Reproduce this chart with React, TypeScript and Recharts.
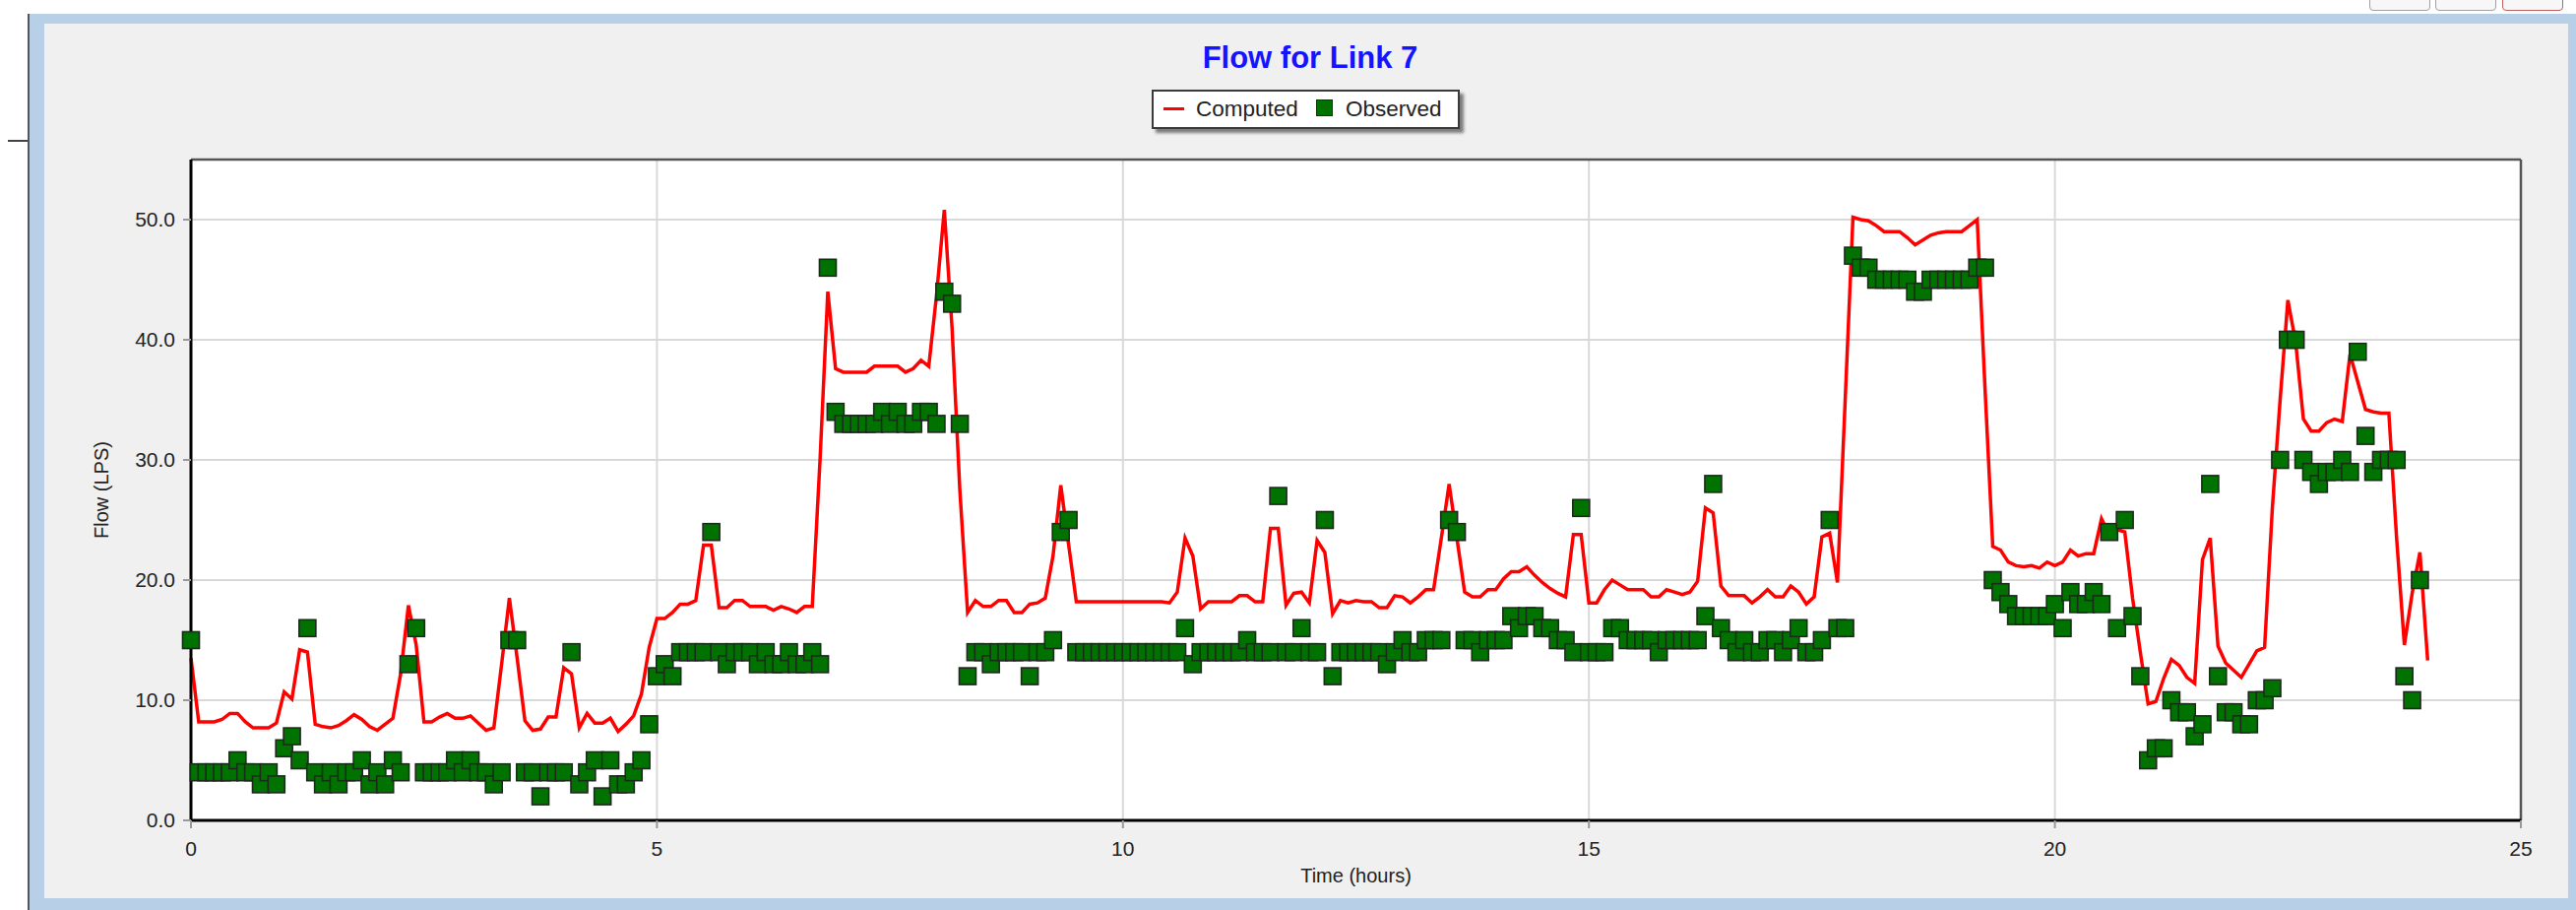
import React from 'react';
import {
  ComposedChart,
  Line,
  Scatter,
  XAxis,
  YAxis,
  CartesianGrid,
  ReferenceLine,
  Label,
} from 'recharts';

// Flow for link 7, one value every 5 minutes from 0 h to 24 h
const STEP_MINUTES = 5;

const computedFlow = [
  13.5, 8.2, 8.2, 8.2, 8.4, 8.9, 8.9, 8.2, 7.7, 7.7,
  7.7, 8.1, 10.7, 10.1, 14.2, 14.0, 8.0, 7.8, 7.7, 7.9,
  8.3, 8.8, 8.4, 7.8, 7.5, 8.0, 8.5, 12.2, 17.9, 14.6,
  8.2, 8.2, 8.6, 8.9, 8.5, 8.5, 8.7, 8.1, 7.5, 7.7,
  13.0, 18.5, 13.5, 8.3, 7.5, 7.6, 8.6, 8.6, 12.7, 12.2,
  7.7, 8.9, 8.1, 8.1, 8.5, 7.4, 8.0, 8.7, 10.5, 14.4,
  16.8, 16.8, 17.3, 18.0, 18.0, 18.3, 22.9, 22.9, 17.7, 17.7,
  18.3, 18.3, 17.8, 17.8, 17.8, 17.5, 17.8, 17.6, 17.3, 17.8,
  17.8, 30.0, 44.0, 37.6, 37.3, 37.3, 37.3, 37.3, 37.8, 37.8,
  37.8, 37.8, 37.3, 37.6, 38.3, 37.8, 43.7, 50.8, 41.0, 27.5,
  17.3, 18.3, 17.8, 17.8, 18.3, 18.3, 17.3, 17.3, 18.0, 18.1,
  18.5, 22.0, 27.9, 23.0, 18.2, 18.2, 18.2, 18.2, 18.2, 18.2,
  18.2, 18.2, 18.2, 18.2, 18.2, 18.2, 18.1, 19.0, 23.5, 22.0,
  17.6, 18.2, 18.2, 18.2, 18.2, 18.7, 18.7, 18.2, 18.2, 24.3,
  24.3, 17.9, 18.9, 19.0, 18.1, 23.3, 22.3, 17.2, 18.3, 18.1,
  18.3, 18.2, 18.2, 17.7, 17.7, 18.7, 18.6, 18.1, 18.6, 19.2,
  19.2, 23.5, 28.0, 23.5, 19.0, 18.6, 18.6, 19.2, 19.2, 20.1,
  20.7, 20.7, 21.1, 20.4, 19.8, 19.3, 18.9, 18.6, 23.8, 23.8,
  18.1, 18.1, 19.2, 20.0, 19.6, 19.2, 19.2, 19.2, 18.6, 18.6,
  19.2, 19.0, 18.8, 19.0, 19.9, 26.0, 25.6, 19.5, 18.7, 18.7,
  18.7, 18.1, 18.6, 19.2, 18.6, 18.6, 19.5, 19.0, 18.0, 18.6,
  23.6, 23.9, 19.8, 35.0, 50.2, 50.0, 49.9, 49.5, 49.0, 49.0,
  49.0, 48.5, 47.9, 48.3, 48.7, 48.9, 49.0, 49.0, 49.0, 49.5,
  50.0, 36.0, 22.8, 22.5, 21.5, 21.2, 21.1, 21.2, 21.0, 21.5,
  21.2, 21.5, 22.5, 22.0, 22.2, 22.2, 25.1, 23.8, 24.2, 24.0,
  18.5, 14.0, 9.7, 9.9, 11.8, 13.4, 12.9, 11.9, 11.4, 21.7,
  23.5, 14.5, 13.1, 12.5, 11.9, 13.0, 14.1, 14.4, 26.0, 35.0,
  43.3, 39.8, 33.4, 32.4, 32.4, 33.1, 33.4, 33.2, 38.8, 36.5,
  34.2, 34.0, 33.9, 33.9, 23.5, 14.6, 18.9, 22.3, 13.3,
];

const observedFlow = [
  15, 4, 4, 4, 4, 4, 5, 4, 4, 3,
  4, 3, 6, 7, 5, 16, 4, 3, 4, 3,
  4, 4, 5, 3, 4, 3, 5, 4, 13, 16,
  4, 4, 4, 4, 5, 4, 5, 4, 4, 3,
  4, 15, 15, 4, 4, 2, 4, 4, 4, 14,
  3, 4, 5, 2, 5, 3, 3, 4, 5, 8,
  12, 13, 12, 14, 14, 14, 14, 24, 14, 13,
  14, 14, 14, 13, 14, 13, 13, 14, 13, 13,
  14, 13, 46, 34, 33, 33, 33, 33, 33, 34,
  33, 34, 33, 33, 34, 34, 33, 44, 43, 33,
  12, 14, 14, 13, 14, 14, 14, 14, 12, 14,
  14, 15, 24, 25, 14, 14, 14, 14, 14, 14,
  14, 14, 14, 14, 14, 14, 14, 14, 16, 13,
  14, 14, 14, 14, 14, 14, 15, 14, 14, 14,
  27, 14, 14, 16, 14, 14, 25, 12, 14, 14,
  14, 14, 14, 14, 13, 14, 15, 14, 14, 15,
  15, 15, 25, 24, 15, 15, 14, 15, 15, 15,
  17, 16, 17, 17, 16, 16, 15, 15, 14, 26,
  14, 14, 14, 16, 16, 15, 15, 15, 15, 14,
  15, 15, 15, 15, 15, 17, 28, 16, 15, 14,
  15, 14, 14, 15, 15, 14, 15, 16, 14, 14,
  15, 25, 16, 16, 47, 46, 46, 45, 45, 45,
  45, 45, 44, 44, 45, 45, 45, 45, 45, 45,
  46, 46, 20, 19, 18, 17, 17, 17, 17, 17,
  18, 16, 19, 18, 18, 19, 18, 24, 16, 25,
  17, 12, 5, 6, 6, 10, 9, 9, 7, 8,
  28, 12, 9, 9, 8, 8, 10, 10, 11, 30,
  40, 40, 30, 29, 28, 29, 29, 30, 29, 39,
  32, 29, 30, 30, 30, 12, 10, 20,
];

const timeTicks = [0, 5, 10, 15, 20, 25];
const flowTicks = [0, 10, 20, 30, 40, 50];

const computedData = computedFlow.map((v, i) => ({ t: (i * STEP_MINUTES) / 60, computed: v }));
const observedData = observedFlow.map((v, i) => ({ t: (i * STEP_MINUTES) / 60, observed: v }));

const FONT = '"Liberation Sans", Arial, sans-serif';

const ObservedSquare = (props: any) => {
  const { cx, cy } = props;
  if (cx == null || cy == null) return null;
  return (
    <rect x={cx - 8.5} y={cy - 8.5} width={17} height={17} fill="#007200" stroke="#1c2a1c" strokeWidth={1.6} />
  );
};

const FlowAxisLabel = (props: any) => {
  const vb = props.viewBox || {};
  const x = (vb.x || 0) + 23;
  const y = (vb.y || 0) + (vb.height || 0) / 2;
  return (
    <text x={x} y={y} transform={`rotate(-90, ${x}, ${y})`} textAnchor="middle" dominantBaseline="central"
      fontSize={20} fontFamily={FONT} fill="#222">
      Flow (LPS)
    </text>
  );
};

const WindowButton = ({ left, color }: { left: number; color: string }) => (
  <div style={{
    position: 'absolute', left, top: -6, width: 62, height: 17, borderRadius: 4,
    border: `1.5px solid ${color}`, background: '#f7f7f7', boxSizing: 'border-box',
  }} />
);

export default function App() {
  return (
    <div style={{ position: 'absolute', left: 0, top: 0, width: 2617, height: 924, overflow: 'hidden', background: '#fff' }}>
      {/* window frame */}
      <div style={{ position: 'absolute', left: 8, top: 142, width: 21, height: 2, background: '#444' }} />
      <div style={{ position: 'absolute', left: 28, top: 14, width: 2, height: 910, background: '#555' }} />
      <div style={{ position: 'absolute', left: 30, top: 14, width: 2587, height: 910, background: '#b8cfe8' }} />
      <div style={{ position: 'absolute', left: 45, top: 24, width: 2564, height: 888, background: '#f0f0f0' }} />
      <WindowButton left={2407} color="#a0a0a0" />
      <WindowButton left={2474} color="#a0a0a0" />
      <WindowButton left={2542} color="#c0605a" />

      <div style={{ position: 'absolute', left: 0, top: 0 }}>
        <ComposedChart width={2617} height={924} margin={{ top: 162, right: 56, bottom: 21, left: 80 }}>
          <CartesianGrid stroke="#d9d9d9" strokeWidth={2} fill="#ffffff" fillOpacity={1} />
          <XAxis
            dataKey="t"
            type="number"
            domain={[0, 25]}
            ticks={timeTicks}
            height={70}
            allowDuplicatedCategory={false}
            axisLine={{ stroke: '#000', strokeWidth: 3 }}
            tickLine={{ stroke: '#999', strokeWidth: 2 }}
            tickSize={8}
            tickMargin={13}
            tick={{ fill: '#222', fontSize: 21, fontFamily: FONT }}
          >
            <Label value="Time (hours)" position="insideBottom" offset={7}
              style={{ fontSize: 20, fontFamily: FONT, fill: '#222' }} />
          </XAxis>
          <YAxis
            type="number"
            domain={[0, 55]}
            ticks={flowTicks}
            width={114}
            axisLine={{ stroke: '#000', strokeWidth: 3 }}
            tickLine={{ stroke: '#999', strokeWidth: 2 }}
            tickSize={8}
            tickMargin={8}
            tickFormatter={(v: number) => v.toFixed(1)}
            tick={{ fill: '#222', fontSize: 21, fontFamily: FONT }}
          >
            <Label content={<FlowAxisLabel />} />
          </YAxis>
          <ReferenceLine y={55} stroke="#555" strokeWidth={2.5} />
          <ReferenceLine x={25} stroke="#555" strokeWidth={2.5} />
          <Line
            data={computedData}
            dataKey="computed"
            type="linear"
            stroke="#ff0000"
            strokeWidth={3.5}
            dot={false}
            activeDot={false}
            isAnimationActive={false}
          />
          <Scatter
            data={observedData}
            dataKey="observed"
            shape={<ObservedSquare />}
            isAnimationActive={false}
          />
        </ComposedChart>
      </div>

      {/* title */}
      <div style={{
        position: 'absolute', left: 1031, top: 43, width: 600, textAlign: 'center',
        fontFamily: FONT, fontWeight: 'bold', fontSize: 31, lineHeight: '31px', color: '#1414ff',
      }}>
        Flow for Link 7
      </div>

      {/* legend */}
      <div style={{
        position: 'absolute', left: 1170, top: 91, width: 313, height: 40, boxSizing: 'border-box',
        border: '2px solid #3a3a3a', background: '#fff', boxShadow: '4px 4px 3px #7c7c7c',
        fontFamily: FONT, fontSize: 22.5, lineHeight: '22.5px', color: '#222',
      }}>
        <div style={{ position: 'absolute', left: 10, top: 16, width: 21, height: 3, background: '#ff0000' }} />
        <div style={{ position: 'absolute', left: 43, top: 7, whiteSpace: 'nowrap' }}>Computed</div>
        <div style={{
          position: 'absolute', left: 165, top: 8, width: 17, height: 17, boxSizing: 'border-box',
          background: '#007200', border: '1.6px solid #1c2a1c',
        }} />
        <div style={{ position: 'absolute', left: 195, top: 7, whiteSpace: 'nowrap' }}>Observed</div>
      </div>
    </div>
  );
}
